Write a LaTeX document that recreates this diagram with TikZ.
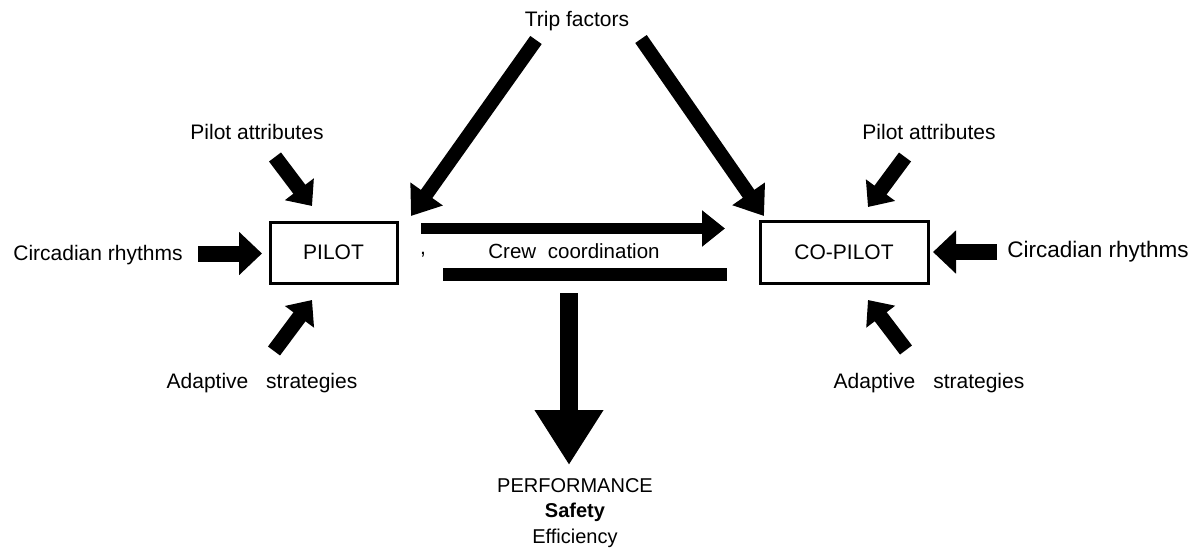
\documentclass[tikz,border=0pt]{standalone}
\usepackage{fontspec}
\setmainfont{Liberation Sans}
\usetikzlibrary{arrows.meta}

\begin{document}
\begin{tikzpicture}[x=1pt,y=-1pt]
\path[fill=white,use as bounding box] (0,0) rectangle (1196,554);
\tikzset{lbl/.style={inner sep=0pt,font=\fontsize{21}{25}\selectfont},crewbox/.style={draw,line width=3pt,inner sep=0pt,font=\fontsize{21}{25}\selectfont},fatin/.style={line width=15pt,-{Triangle[width=35pt,length=21pt]}},fatside/.style={line width=16pt,-{Triangle[width=42pt,length=23pt]}},fattrip/.style={line width=14pt,-{Triangle[width=38pt,length=27pt]}},fatcrew/.style={line width=11pt,-{Triangle[width=35pt,length=23pt]}},fatbar/.style={line width=13pt},fatout/.style={line width=18pt,-{Triangle[width=65pt,length=55pt]}}}
% the two crew members
\node[crewbox,minimum width=127pt,minimum height=61pt] (pilot) at (333.5,252.5) {PILOT};
\node[crewbox,minimum width=168pt,minimum height=62pt] (copilot) at (844,252) {CO-PILOT};
% labels
\node[lbl] (trip) at (577,21) {Trip factors};
\node[lbl] (attrL) at (257,132) {Pilot attributes};
\node[lbl] (attrR) at (929,132) {Pilot attributes};
\node[lbl] (circL) at (98,255) {Circadian rhythms};
\node[lbl,font=\fontsize{22.5}{26}\selectfont] (circR) at (1098,252) {Circadian rhythms};
\node[lbl] (adaptL) at (262,383) {Adaptive\hspace{12pt} strategies};
\node[lbl] (adaptR) at (929,383) {Adaptive\hspace{12pt} strategies};
\node[lbl,font=\fontsize{20.5}{25}\selectfont] (crew) at (574,251) {Crew\hspace{6pt} coordination};
\node[lbl] (comma) at (423,255) {,};
\node[lbl,font=\fontsize{20}{25.5}\selectfont,align=center] (perf) at (575,513) {PERFORMANCE\\\textbf{Safety}\\Efficiency};
% arrow ends
\coordinate (tripLs) at (536,40); \coordinate (tripLe) at (411,216);
\coordinate (tripRs) at (641,39); \coordinate (tripRe) at (764,216);
\coordinate (attrLs) at (275,157); \coordinate (attrLe) at (312,206);
\coordinate (attrRs) at (905,157); \coordinate (attrRe) at (868,207);
\coordinate (adaptLs) at (274,351); \coordinate (adaptLe) at (312,300);
\coordinate (adaptRs) at (906,350); \coordinate (adaptRe) at (868,300);
\coordinate (circLs) at (198,253.5); \coordinate (circLe) at (262,253.5);
\coordinate (circRs) at (997,252); \coordinate (circRe) at (933,252);
\coordinate (crewTs) at (421,228.5); \coordinate (crewTe) at (725,228.5);
\coordinate (crewBs) at (727,274.5); \coordinate (crewBe) at (443,274.5);
\coordinate (perfs) at (569,293); \coordinate (perfe) at (569,465);
% arrows
\draw[fattrip] (tripLs) -- (tripLe);
\draw[fattrip] (tripRs) -- (tripRe);
\draw[fatin] (attrLs) -- (attrLe);
\draw[fatin] (attrRs) -- (attrRe);
\draw[fatin] (adaptLs) -- (adaptLe);
\draw[fatin] (adaptRs) -- (adaptRe);
\draw[fatside] (circLs) -- (circLe);
\draw[fatside] (circRs) -- (circRe);
\draw[fatcrew] (crewTs) -- (crewTe);
\draw[fatbar] (crewBs) -- (crewBe);
\draw[fatout] (perfs) -- (perfe);
\end{tikzpicture}
\end{document}
